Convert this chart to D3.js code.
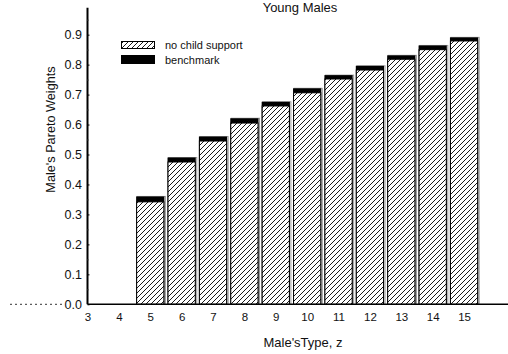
<!DOCTYPE html>
<html><head><meta charset="utf-8">
<script src="https://cdn.jsdelivr.net/npm/d3@7"></script>
<style>body{margin:0;background:#fff}svg{display:block}text{font-family:"Liberation Sans",Arial,sans-serif;fill:#111}</style>
</head><body>
<script>
const types = [5,6,7,8,9,10,11,12,13,14,15];
const noChildSupport = [0.342,0.475,0.545,0.605,0.662,0.706,0.752,0.782,0.818,0.850,0.879];
const benchmark = [0.360,0.490,0.560,0.621,0.676,0.721,0.765,0.796,0.831,0.864,0.891];
const xTicks = [3,4,5,6,7,8,9,10,11,12,13,14,15];
const yTicks = [0,0.1,0.2,0.3,0.4,0.5,0.6,0.7,0.8,0.9];
const yMinor = [0.05,0.15,0.25,0.35,0.45,0.55,0.65,0.75,0.85,0.95];
const title = "Young Males", xTitle = "Male'sType, z", yTitle = "Male's Pareto Weights";
const legendLabels = ["no child support","benchmark"];

const W=508,H=354;
const svg=d3.select("body").append("svg").attr("width",W).attr("height",H);
const defs=svg.append("defs");
const pat=defs.append("pattern").attr("id","hatch").attr("patternUnits","userSpaceOnUse")
  .attr("width",5).attr("height",5);
pat.append("rect").attr("width",5).attr("height",5).attr("fill","#fff");
pat.append("path").attr("d","M-1,1 l2,-2 M0,5 l5,-5 M4,6 l2,-2").attr("stroke","#000").attr("stroke-width",0.9);

const x=d3.scaleLinear().domain([3,16.4]).range([87.5,508]);
const y=d3.scaleLinear().domain([0,0.99]).range([304.3,7.7]);
const bw=(x(4)-x(3))*0.9;

const g=svg.append("g");
types.forEach((t,i)=>{
  g.append("rect").attr("x",x(t)-bw/2+1).attr("y",y(benchmark[i])).attr("width",bw).attr("height",y(0)-y(benchmark[i]))
   .attr("fill","none").attr("stroke","#999").attr("stroke-width",1);
  g.append("rect").attr("x",x(t)-bw/2).attr("y",y(benchmark[i])).attr("width",bw).attr("height",y(0)-y(benchmark[i]))
   .attr("fill","#000");
  g.append("rect").attr("x",x(t)-bw/2+0.5).attr("y",y(noChildSupport[i])).attr("width",bw-1).attr("height",y(0)-y(noChildSupport[i]))
   .attr("fill","url(#hatch)").attr("stroke","#000").attr("stroke-width",1);
});

// y axis
const yAxis=d3.axisRight(y).tickValues(yTicks).tickSize(2).tickFormat("");
const ya=svg.append("g").attr("transform",`translate(${x(3)},0)`).call(yAxis);
ya.select(".domain").remove();
svg.append("line").attr("x1",x(3)).attr("x2",x(3)).attr("y1",y(0.99)).attr("y2",y(0)).attr("stroke","#000").attr("stroke-width",2);
const yAxisMinor=d3.axisRight(y).tickValues(yMinor).tickSize(1.5).tickFormat("");
const ym=svg.append("g").attr("transform",`translate(${x(3)},0)`).call(yAxisMinor);
ym.select(".domain").remove();
ym.selectAll("line").attr("stroke","#555");
svg.append("g").selectAll("text").data(yTicks).join("text")
  .attr("x",82).attr("y",d=>y(d)).attr("dy","0.36em").attr("text-anchor","end").attr("font-size",12.5)
  .text(d=>d3.format(".1f")(d));
svg.append("line").attr("x1",10).attr("x2",63).attr("y1",y(0)).attr("y2",y(0)).attr("stroke","#000").attr("stroke-width",0.8).attr("stroke-dasharray","2,3");

// x axis
const xAxis=d3.axisBottom(x).tickValues(xTicks).tickSize(0).tickPadding(9).tickFormat(d3.format("d"));
const xa=svg.append("g").attr("transform",`translate(0,${y(0)})`).call(xAxis);
xa.select(".domain").remove();
xa.selectAll("text").attr("font-size",11.5).attr("font-family",'"Liberation Sans",Arial,sans-serif').attr("fill","#111");
svg.append("line").attr("x1",x(3)).attr("x2",W).attr("y1",y(0)).attr("y2",y(0)).attr("stroke","#000").attr("stroke-width",1.5);

// titles
svg.append("text").attr("x",300).attr("y",12).attr("text-anchor","middle").attr("font-size",13).text(title);
svg.append("text").attr("x",303).attr("y",347).attr("text-anchor","middle").attr("font-size",13).text(xTitle);
svg.append("text").attr("transform","translate(55,129.5) rotate(-90)").attr("text-anchor","middle").attr("font-size",12.7).text(yTitle);

// legend
const lg=svg.append("g");
lg.append("rect").attr("x",121.5).attr("y",41.5).attr("width",33).attr("height",7).attr("fill","url(#hatch)").attr("stroke","#000").attr("stroke-width",1);
lg.append("rect").attr("x",121).attr("y",55).attr("width",34).attr("height",9).attr("fill","#000");
lg.append("text").attr("x",165).attr("y",49).attr("font-size",11).text(legendLabels[0]);
lg.append("text").attr("x",165).attr("y",64).attr("font-size",11).text(legendLabels[1]);
</script>
</body></html>
